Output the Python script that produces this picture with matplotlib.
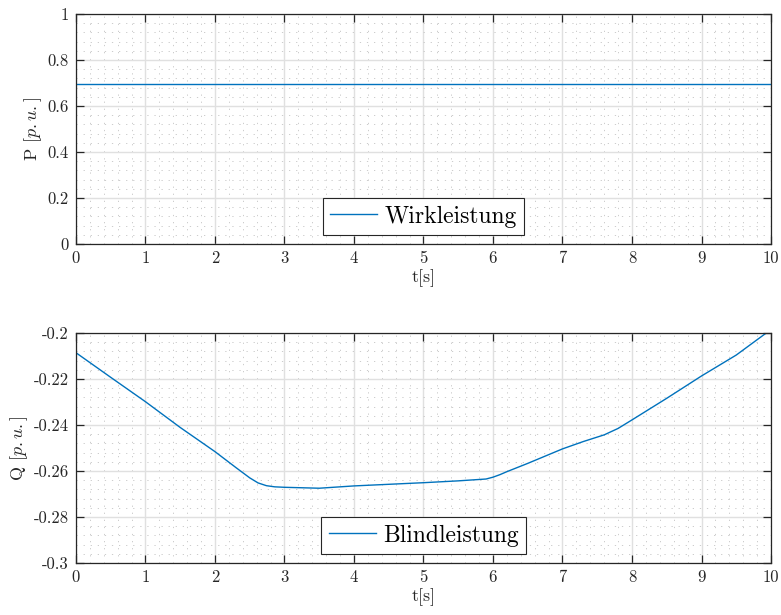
import matplotlib
matplotlib.use("Agg")
import matplotlib.pyplot as plt
from matplotlib.ticker import MultipleLocator

plt.rcParams['font.family'] = ['cmr10', 'DejaVu Serif']
plt.rcParams['mathtext.fontset'] = 'cm'
plt.rcParams['axes.unicode_minus'] = False

# Wirkleistung
t_p = [0, 2, 4, 6, 8, 10]
p_vals = [0.697, 0.697, 0.697, 0.697, 0.697, 0.697]

# Blindleistung
t_q = [0, 0.5, 1, 1.5, 2, 2.3, 2.5, 2.62, 2.74, 2.86, 3, 3.5, 4, 4.5, 5,
       5.5, 5.9, 6, 6.1, 6.2, 6.5, 7, 7.3, 7.6, 7.8, 8, 8.5, 9, 9.5, 10]
q_vals = [-0.2086, -0.2193, -0.2299, -0.2411, -0.2516, -0.2585, -0.2630,
          -0.2652, -0.2664, -0.2669, -0.2671, -0.2675, -0.2665, -0.2658,
          -0.2651, -0.2643, -0.2635, -0.2627, -0.2616, -0.2603, -0.2567,
          -0.2504, -0.2472, -0.2443, -0.2415, -0.2378, -0.2284, -0.2187,
          -0.2096, -0.1985]

x_ticks = [0, 1, 2, 3, 4, 5, 6, 7, 8, 9, 10]
p_ticks = [0, 0.2, 0.4, 0.6, 0.8, 1]
p_ticklabels = ['0', '0.2', '0.4', '0.6', '0.8', '1']
q_ticks = [-0.3, -0.28, -0.26, -0.24, -0.22, -0.2]
q_ticklabels = ['-0.3', '-0.28', '-0.26', '-0.24', '-0.22', '-0.2']

line_color = '#0072BD'
spine_color = '#262626'

fig = plt.figure(figsize=(7.81, 6.15), dpi=100)
ax1 = fig.add_axes([0.0973, 0.6033, 0.8899, 0.374])
ax2 = fig.add_axes([0.0973, 0.0846, 0.8899, 0.374])


def style_axes(ax, yticks, yticklabels, ylim, yminor, ylabel):
    ax.set_xlim(0, 10)
    ax.set_ylim(*ylim)
    ax.set_xticks(x_ticks)
    ax.set_xticklabels([str(x) for x in x_ticks])
    ax.set_yticks(yticks)
    ax.set_yticklabels(yticklabels)
    ax.xaxis.set_minor_locator(MultipleLocator(0.2))
    ax.yaxis.set_minor_locator(MultipleLocator(yminor))
    ax.grid(True, which='major', color='#e0e0e0', linewidth=1.0)
    ax.grid(True, which='minor', color='#c4c4c4', linewidth=0.6, linestyle=(0, (1.5, 7)))
    ax.set_axisbelow(True)
    ax.tick_params(which='major', direction='in', length=6, width=0.9,
                   colors=spine_color, labelsize=12, top=True, right=True,
                   labelcolor='#262626', pad=5)
    ax.tick_params(which='minor', length=0, top=True, right=True)
    for s in ax.spines.values():
        s.set_color(spine_color)
        s.set_linewidth(0.9)
    ax.set_xlabel('t[s]', fontsize=13, labelpad=2, color='#262626')
    ax.set_ylabel(ylabel, fontsize=13, labelpad=3, color='#262626')


ax1.plot(t_p, p_vals, color=line_color, linewidth=1.0, label='Wirkleistung')
style_axes(ax1, p_ticks, p_ticklabels, (0, 1), 0.04, r'P $[p.u.]$')

ax2.plot(t_q, q_vals, color=line_color, linewidth=1.0, label='Blindleistung')
style_axes(ax2, q_ticks, q_ticklabels, (-0.3, -0.2), 0.004, r'Q $[p.u.]$')

for ax in (ax1, ax2):
    leg = ax.legend(loc='lower center', bbox_to_anchor=(0.5, 0.04), fontsize=17,
                    frameon=True, fancybox=False, framealpha=1,
                    edgecolor='#262626', handlelength=2.0, borderpad=0.3,
                    handletextpad=0.3, borderaxespad=0)
    leg.get_frame().set_linewidth(0.8)

fig.savefig('out.png', dpi=100)
